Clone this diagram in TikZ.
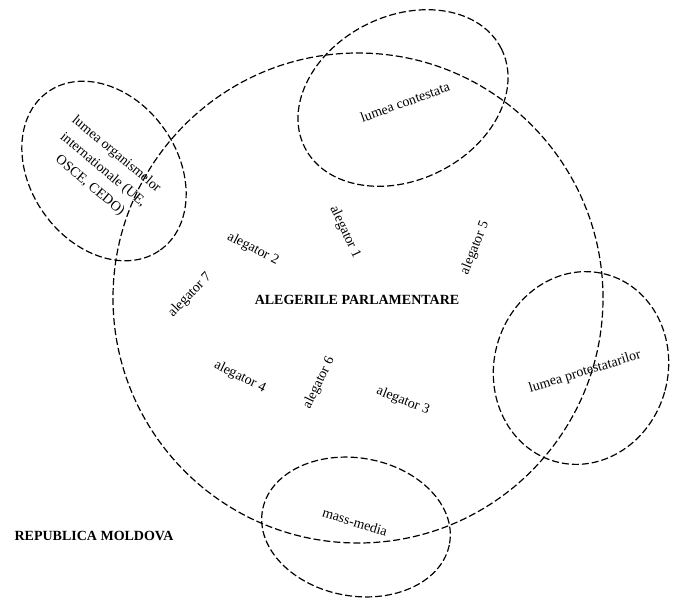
\documentclass[tikz,border=0pt]{standalone}
\usepackage{fontspec}
\setmainfont{Liberation Serif}
\usetikzlibrary{shapes.geometric}
\begin{document}
\begin{tikzpicture}[x=1pt,y=-1pt,
  region/.style={draw, ellipse, inner sep=0pt, line width=1.2pt, dash pattern=on 7pt off 3pt},
  lbl/.style={inner sep=0pt, font=\fontsize{14}{20.5}\selectfont},
  ttl/.style={inner sep=0pt, font=\fontsize{14}{17}\selectfont\bfseries}]
\useasboundingbox (0,0) rectangle (674,603);
% regions
\node[region, minimum width=490pt, minimum height=490pt] (alegeri) at (358,298) {};
\node[region, minimum width=194pt, minimum height=147pt, rotate=-54.5] (org) at (104,171) {};
\node[region, minimum width=220pt, minimum height=164pt, rotate=26.5] (contest) at (403,98) {};
\node[region, minimum width=174pt, minimum height=194pt, rotate=-15] (protest) at (581,368) {};
\node[region, minimum width=190pt, minimum height=138pt, rotate=-10] (media) at (356,527) {};
% labels
\node[lbl, align=center, rotate=-40] (orgtxt) at (103,170) {lumea organismelor\\internationale (UE,\\OSCE, CEDO)};
\node[lbl, rotate=20] (contesttxt) at (405,102) {lumea contestata};
\node[lbl, rotate=17] (protesttxt) at (585,372) {lumea protestatarilor};
\node[lbl, rotate=-17] (mediatxt) at (355,522) {mass-media};
\node[ttl] (title) at (357,300) {ALEGERILE PARLAMENTARE};
\node[ttl] (rm) at (94,536) {REPUBLICA MOLDOVA};
% alegatori
\node[lbl, rotate=-65] (a1) at (345,232) {alegator 1};
\node[lbl, rotate=-27] (a2) at (253,249) {alegator 2};
\node[lbl, rotate=-22] (a3) at (403,401) {alegator 3};
\node[lbl, rotate=-26] (a4) at (240,377) {alegator 4};
\node[lbl, rotate=68] (a5) at (475,248) {alegator 5};
\node[lbl, rotate=64] (a6) at (319,383) {alegator 6};
\node[lbl, rotate=46] (a7) at (190,295) {alegator 7};
\end{tikzpicture}
\end{document}
